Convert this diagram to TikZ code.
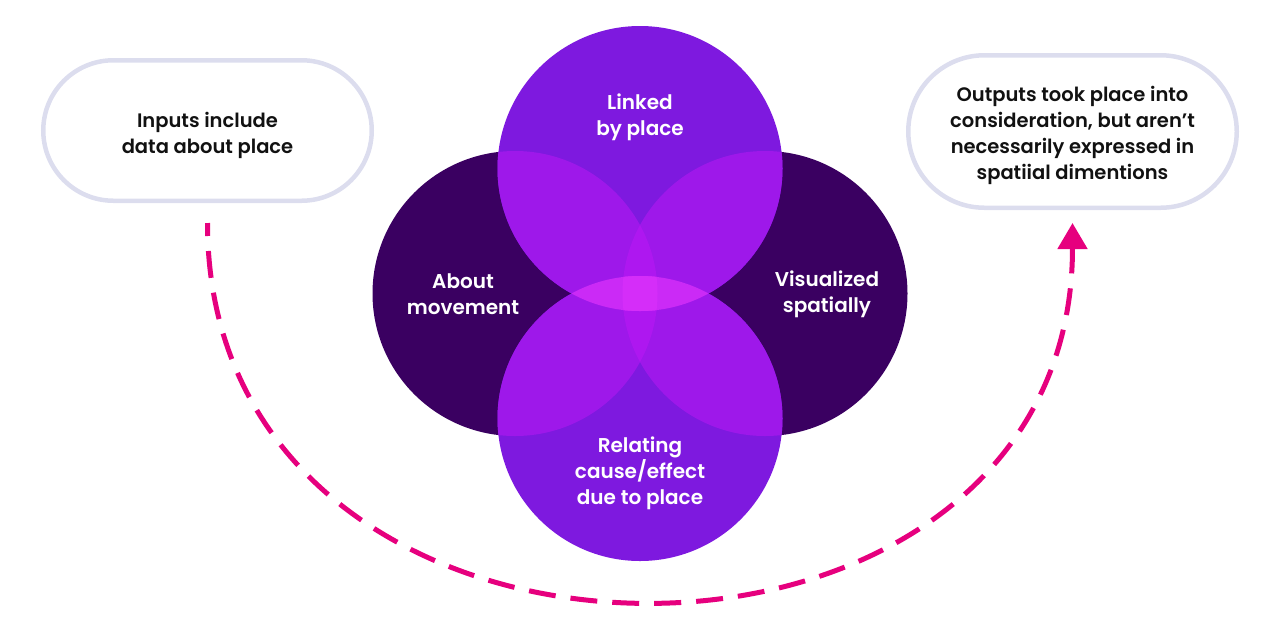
\documentclass[tikz,border=0pt]{standalone}
\usepackage{fontspec}
\setmainfont{Poppins}[BoldFont={* SemiBold}]
\usepackage{tikz}
\usetikzlibrary{shapes,arrows.meta,positioning}

\definecolor{venndark}{HTML}{3A0061}
\definecolor{vennviolet}{HTML}{7E19DF}
\definecolor{vennmix}{HTML}{9E18EA}
\definecolor{vennmixtwo}{HTML}{AE17F0}
\definecolor{vennpink}{HTML}{CB2AF6}
\definecolor{venncore}{HTML}{D52DF9}
\definecolor{pillgray}{HTML}{DCDDEE}
\definecolor{pilltext}{HTML}{111111}
\definecolor{flowpink}{HTML}{E6007E}

\begin{document}
\begin{tikzpicture}[
    x=1pt, y=1pt,
    dark/.style={circle, fill=venndark, minimum size=285pt, inner sep=0pt},
    light/.style={circle, fill=vennviolet, minimum size=285pt, inner sep=0pt},
    vennr/.style={radius=142.5},
    venntext/.style={text=white, align=center, font=\bfseries\fontsize{20}{26}\selectfont},
    pill/.style={rounded rectangle, draw=pillgray, line width=4.5pt, minimum width=328.5pt, inner sep=0pt},
    pilltxt/.style={align=center, text=pilltext, font=\bfseries\fontsize{19.5}{26}\selectfont},
    flow/.style={draw=flowpink, line width=5pt, dash pattern=on 27pt off 15pt, dash phase=14pt, -{Triangle[length=26pt,width=29pt]}}
]
\useasboundingbox (0,0) rectangle (1280,-625);
% Side boxes
\node[pill, minimum height=140.5pt] (inputs) at (207.5,-130.5) {};
\node[pill, minimum height=152.5pt] (outputs) at (1072.5,-131.5) {};
\node[pilltxt] (inputstxt) at ([yshift=-5pt]inputs.center) {Inputs include\\data about place};
\node[pilltxt] (outputstxt) at ([yshift=-4pt]outputs.center) {Outputs took place into\\consideration, but aren’t\\necessarily expressed in\\spatiial dimentions};
% Circles
\node[dark] (movement) at (515,-293.5) {};
\node[dark] (visual) at (765,-293.5) {};
\node[light] (linked) at (640,-168.5) {};
\node[light] (relating) at (640,-418.5) {};
% Overlaps
\foreach \a/\b in {linked/movement, linked/visual, relating/movement, relating/visual} {
  \begin{scope}
    \clip (\a.center) circle[vennr];
    \fill[vennmix] (\b.center) circle[vennr];
  \end{scope}
}
\foreach \a in {linked, relating} {
  \begin{scope}
    \clip (\a.center) circle[vennr];
    \clip (movement.center) circle[vennr];
    \fill[vennmixtwo] (visual.center) circle[vennr];
  \end{scope}
}
\foreach \b in {movement, visual} {
  \begin{scope}
    \clip (linked.center) circle[vennr];
    \clip (relating.center) circle[vennr];
    \fill[vennpink] (\b.center) circle[vennr];
  \end{scope}
}
\begin{scope}
  \clip (linked.center) circle[vennr];
  \clip (relating.center) circle[vennr];
  \clip (movement.center) circle[vennr];
  \fill[venncore] (visual.center) circle[vennr];
\end{scope}
% Circle labels
\node[venntext] (linkedtxt) at (640,-117) {Linked\\by place};
\node[venntext] (movementtxt) at (463,-294) {About\\movement};
\node[venntext] (visualtxt) at (827,-294) {Visualized\\spatially};
\node[venntext] (relatingtxt) at (640,-473) {Relating\\cause/effect\\due to place};
% Arrow
\draw[flow] ([yshift=-20pt]inputs.south) .. controls +(0,-503) and +(0,-503) .. ([yshift=-13pt]outputs.south);
\end{tikzpicture}
\end{document}
